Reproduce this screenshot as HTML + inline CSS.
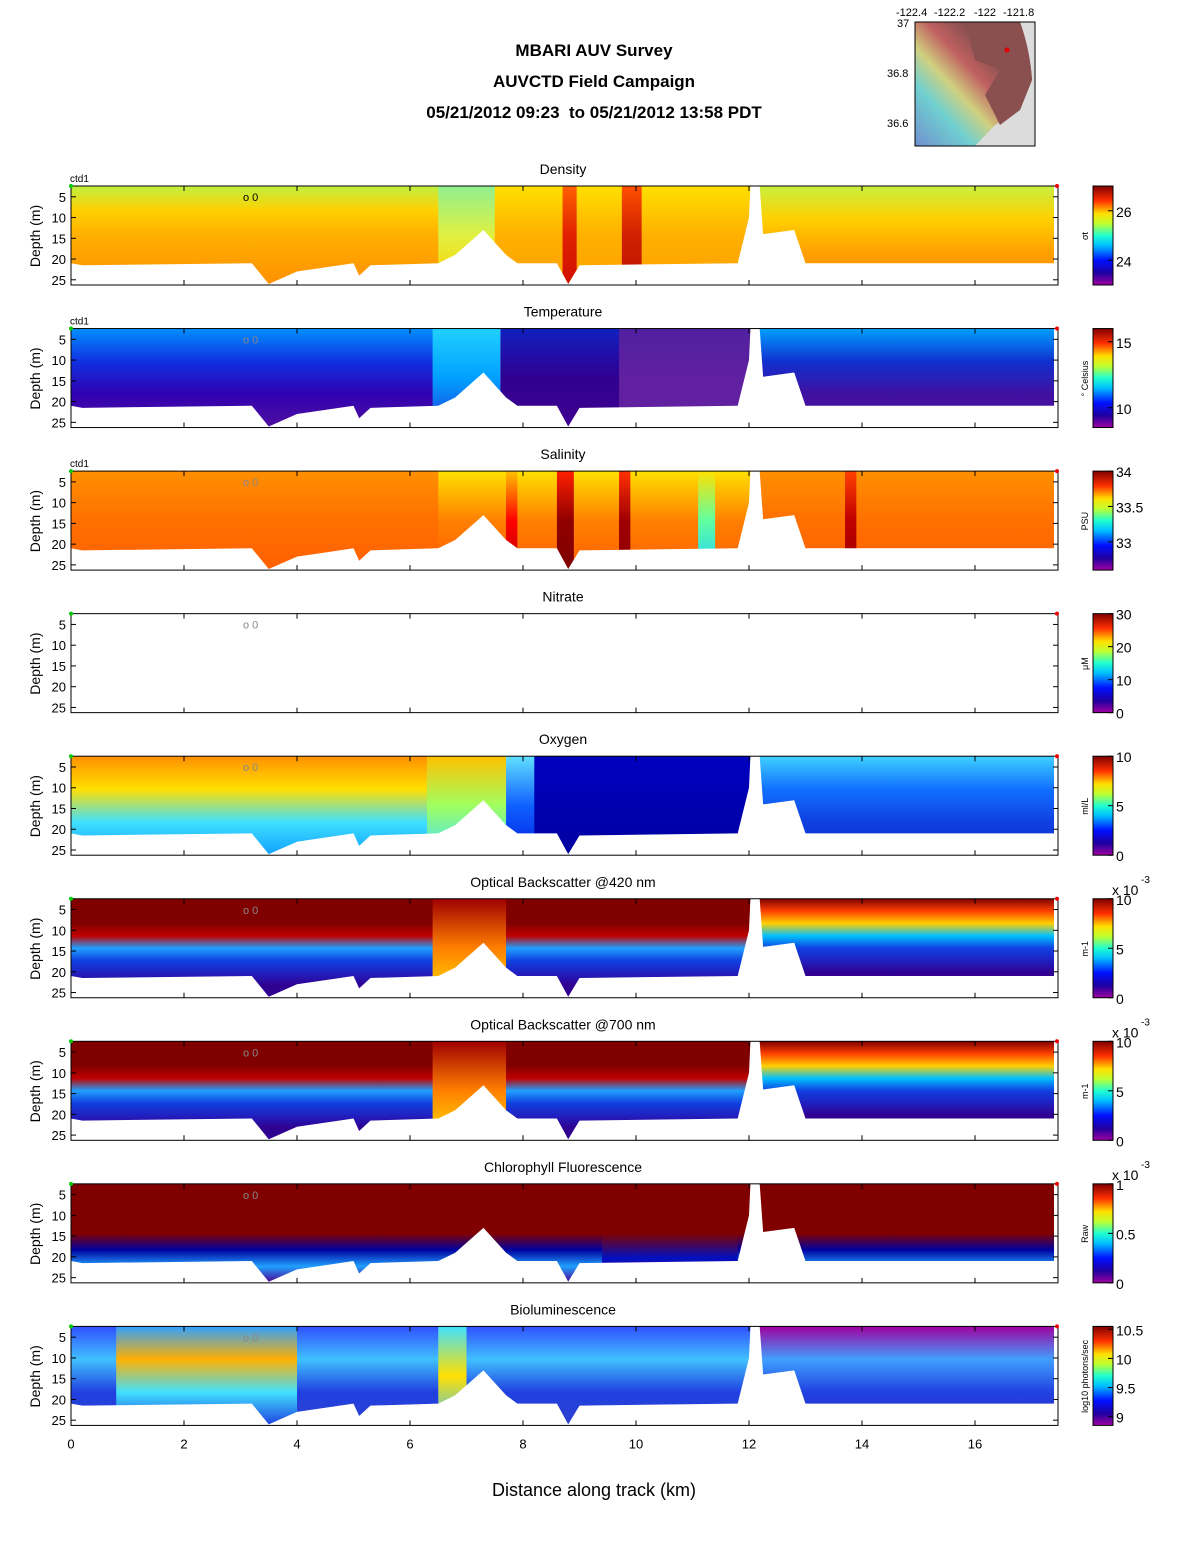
<!DOCTYPE html>
<html><head><meta charset="utf-8">
<style>
body{margin:0;background:#fff;font-family:"Liberation Sans",sans-serif;}
svg text{font-family:"Liberation Sans",sans-serif;}
</style></head>
<body>
<svg id="chart" width="1188" height="1548" viewBox="0 0 1188 1548" xmlns="http://www.w3.org/2000/svg">
<defs>
<linearGradient id="jet" x1="0" y1="1" x2="0" y2="0">
<stop offset="0" stop-color="#a000a0"/><stop offset="0.12" stop-color="#2000a0"/><stop offset="0.25" stop-color="#0010ff"/>
<stop offset="0.4" stop-color="#00c0ff"/><stop offset="0.5" stop-color="#20ffd0"/><stop offset="0.62" stop-color="#c0ff30"/>
<stop offset="0.72" stop-color="#ffe000"/><stop offset="0.85" stop-color="#ff3000"/><stop offset="1" stop-color="#800000"/>
</linearGradient>
<linearGradient id="mapg" x1="0" y1="1" x2="1" y2="0">
<stop offset="0" stop-color="#7090d0"/><stop offset="0.25" stop-color="#70d0d0"/><stop offset="0.4" stop-color="#d0d080"/><stop offset="0.55" stop-color="#c06060"/><stop offset="0.7" stop-color="#8a5050"/>
</linearGradient>
</defs>
<g font-weight="bold" font-size="17" text-anchor="middle">
<text x="594" y="56">MBARI AUV Survey</text>
<text x="594" y="87">AUVCTD Field Campaign</text>
<text x="594" y="118" xml:space="preserve">05/21/2012 09:23  to 05/21/2012 13:58 PDT</text>
</g>
<g>
<rect x="915" y="22" width="120" height="124" fill="#dcdcdc"/>
<path d="M915,22 L1020,22 Q1030,50 1032,80 L1020,110 L995,125 L975,146 L915,146 Z" fill="url(#mapg)"/>
<path d="M965,22 L1020,22 Q1030,50 1032,80 L1020,110 L1000,125 L985,95 L1000,70 L975,60 Z" fill="#8a5050"/>
<circle cx="1007" cy="50" r="2.5" fill="#e00000"/>
<rect x="915" y="22" width="120" height="124" fill="none" stroke="#000"/>
<g font-size="11"><text x="896" y="16">-122.4</text><text x="934" y="16">-122.2</text><text x="974" y="16">-122</text><text x="1003" y="16">-121.8</text>
<text x="897" y="27">37</text><text x="887" y="77">36.8</text><text x="887" y="127">36.6</text></g>
</g>
<g id="panels"></g>
<text x="594" y="1496" font-size="18" text-anchor="middle">Distance along track (km)</text>
</svg>
<script>
const bathyKm=[0,0.2,3.2,3.5,4.0,4.5,5.0,5.1,5.3,6.5,6.8,7.3,7.7,7.9,8.6,8.8,9.0,11.8,12.0,12.05,12.15,12.25,12.8,13.0,17.4];
const bathyDepth=[21,21.5,21,26,23,22,21,24,21.5,21,19,13,19,21,21,26,21.5,21,10,-5,-5,14,13,21,21];
const xTicks=[0,2,4,6,8,10,12,14,16];
const depthTicks=[5,10,15,20,25];
const panelTitles=["Density","Temperature","Salinity","Nitrate","Oxygen","Optical Backscatter @420 nm","Optical Backscatter @700 nm","Chlorophyll Fluorescence","Bioluminescence"];
const cbUnits=["σt","° Celsius","PSU","μM","ml/L","m-1","m-1","Raw","log10 photons/sec"];
const cbTicks=[[24,26],[10,15],[33,33.5,34],[0,10,20,30],[0,5,10],[0,5,10],[0,5,10],[0,0.5,1],[9,9.5,10,10.5]];
const cbRange=[[23,27],[8.5,16],[32.6,34],[0,30],[0,10],[0,10],[0,10],[0,1],[8.85,10.55]];
const bsLeft=["#800000","#800000","#800000","#c00000","#20a0ff","#1040e0","#2020c0","#300090","#300090"];
const bsRight=["#800000","#ff4000","#ffd000","#00c0ff","#1040e0","#2020c0","#300090","#300090","#300090"];
const layers=[
 [[0,6.6,["#c0f040","#ffd000","#ffb000","#ffa000","#ff9000"]],[6.5,7.6,["#90f090","#e0f040","#ffd000"]],[7.5,12.1,["#ffe000","#ffb000","#ffa000"]],[8.7,8.95,["#ff6000","#e02000","#d01000"]],[9.75,10.1,["#ff5000","#d02000","#c01000"]],[12.1,17.4,["#c8f040","#ffd000","#ffa000","#ff9000"]]],
 [[0,6.5,["#0090ff","#1030e0","#3000b0","#5010a0"]],[6.4,7.6,["#20d0ff","#00a0ff","#2040e0"]],[7.6,12.1,["#1020c0","#300090","#400090"]],[9.7,12.1,["#5020a0","#6020a0","#6020a0"]],[12.1,17.4,["#00a0ff","#1030d0","#4010a0","#5010a0"]]],
 [[0,6.6,["#ff9000","#ff7000","#ff6000"]],[6.5,12.1,["#ffe000","#ff8000","#ff6000"]],[7.7,7.9,["#ffc000","#ff0000","#c00000"]],[8.6,8.9,["#ff2000","#900000","#800000"]],[9.7,9.9,["#ff3000","#a00000","#900000"]],[11.1,11.4,["#ffe000","#60ffa0","#20d0ff"]],[12.1,17.4,["#ff9000","#ff7000","#ff6000"]],[13.7,13.9,["#ff4000","#c00000","#a00000"]]],
 [],
 [[0,6.4,["#ff9000","#ffe000","#40e0ff","#10a0ff"]],[6.3,7.8,["#ffc000","#a0ff60","#40e0ff"]],[7.7,8.3,["#60e0ff","#1060ff","#0020e0"]],[8.2,12.1,["#0000c0","#0000b0","#0000a0"]],[12.1,17.4,["#40d0ff","#1070ff","#1040e0","#1030d0"]]],
 [[0,6.5,bsLeft],[6.4,7.8,["#a00000","#ff8000","#ffe000"]],[7.7,12.1,bsLeft],[12.1,17.4,bsRight]],
 [[0,6.5,bsLeft],[6.4,7.8,["#a00000","#ff8000","#ffe000"]],[7.7,12.1,bsLeft],[12.1,17.4,bsRight]],
 [[0,17.4,["#800000","#800000","#800000","#800000","#0000a0","#20a0ff","#500090"]],[9.4,11.8,["#800000","#800000","#800000","#0010c0","#700090"]]],
 [[0,17.4,["#3050ff","#40c0ff","#2040e0","#3040d0"]],[0.8,4,["#30a0ff","#ffb000","#40e0ff","#2040e0"]],[6.5,7,["#40e0ff","#ffe000","#40c0ff"]],[12.1,17.4,["#a000a0","#40a0ff","#2040e0","#3030c0"]]]
];
const X0=71,XS=56.5,top0=186,PH=142.55;
const NS="http://www.w3.org/2000/svg";
const root=document.getElementById('panels');
function el(t,a,p){const e=document.createElementNS(NS,t);for(const k in a)e.setAttribute(k,a[k]);(p||root).appendChild(e);return e;}
const xs=k=>X0+k*XS;
panelTitles.forEach((name,i)=>{
 const T=top0+i*PH, B=T+99;
 const ys=d=>T+(d-2.4)*4.15;
 const g=el('g',{});
 
 
 const cp=el('clipPath',{id:'c'+i},g);el('rect',{x:X0,y:T,width:xs(17.4)-X0,height:99},cp);
 const dg=el('g',{'clip-path':'url(#c'+i+')'},g);
 layers[i].forEach((s,j)=>{
  const id='g'+i+'_'+j;const lg=el('linearGradient',{id:id,x1:0,y1:0,x2:0,y2:1},g);
  s[2].forEach((c,k)=>el('stop',{offset:k/(s[2].length-1),'stop-color':c},lg));
  const r=el('rect',{x:xs(s[0]),y:T,width:xs(s[1])-xs(s[0]),height:99,fill:'url(#'+id+')'},dg);
  
  
 });
 let pts=bathyKm.map((k,j)=>xs(k)+','+ys(bathyDepth[j]));
 const m=el('polygon',{points:X0+','+(B+5)+' '+pts.join(' ')+' '+xs(17.4)+','+(B+5),fill:'#fff'},g);
 
 
 el('rect',{x:X0,y:T,width:987,height:99,fill:'none',stroke:'#000','stroke-width':1},g);
 const tt=el('text',{x:563,y:T-12,'font-size':14,'text-anchor':'middle'},g);tt.textContent=name;
 
 
 if(i<3){const c=el('text',{x:70,y:T-4,'font-size':10},g);c.textContent='ctd1';}
 const yl=el('text',{transform:'translate(40,'+(T+50)+') rotate(-90)','font-size':14,'text-anchor':'middle'},g);yl.textContent='Depth (m)';
 
 
 depthTicks.forEach(d=>{const y=ys(d);el('line',{x1:X0,x2:X0+5,y1:y,y2:y,stroke:'#000'},g);el('line',{x1:1058,x2:1053,y1:y,y2:y,stroke:'#000'},g);
  const t=el('text',{x:X0-5,y:y+5,'font-size':13,'text-anchor':'end'},g);t.textContent=d;});
 xTicks.forEach(k=>{el('line',{x1:xs(k),x2:xs(k),y1:B,y2:B-5,stroke:'#000'},g);el('line',{x1:xs(k),x2:xs(k),y1:T,y2:T+5,stroke:'#000'},g);
  if(i==8){const t=el('text',{x:xs(k),y:B+23,'font-size':13,'text-anchor':'middle'},g);t.textContent=k;}});
 const o=el('text',{x:243,y:T+15,'font-size':11,fill:i==0?'#000':'#888'},g);o.textContent='o 0';
 const cb=el('rect',{x:1093,y:T,width:20,height:99,fill:'url(#jet)',stroke:'#000'},g);
 
 
 const [lo,hi]=cbRange[i];
 cbTicks[i].forEach(v=>{const y=B-(v-lo)/(hi-lo)*99;el('line',{x1:1113,x2:1108,y1:y,y2:y,stroke:'#000'},g);
  const t=el('text',{x:1116,y:y+6,'font-size':14},g);t.textContent=v;});
 const u=el('text',{transform:'translate(1088,'+(T+50)+') rotate(-90)','font-size':9,'text-anchor':'middle'},g);u.textContent=cbUnits[i];
 if(i>=5&&i<=7){const t=el('text',{x:1112,y:T-4,'font-size':14},g);t.textContent='x 10';const e=el('text',{x:1141,y:T-16,'font-size':10},g);e.textContent='-3';}
 el('circle',{cx:X0,cy:T,r:2,fill:'#0c0'},g);el('circle',{cx:1057,cy:T,r:2,fill:'#e00'},g);
});
</script>
</body></html>
